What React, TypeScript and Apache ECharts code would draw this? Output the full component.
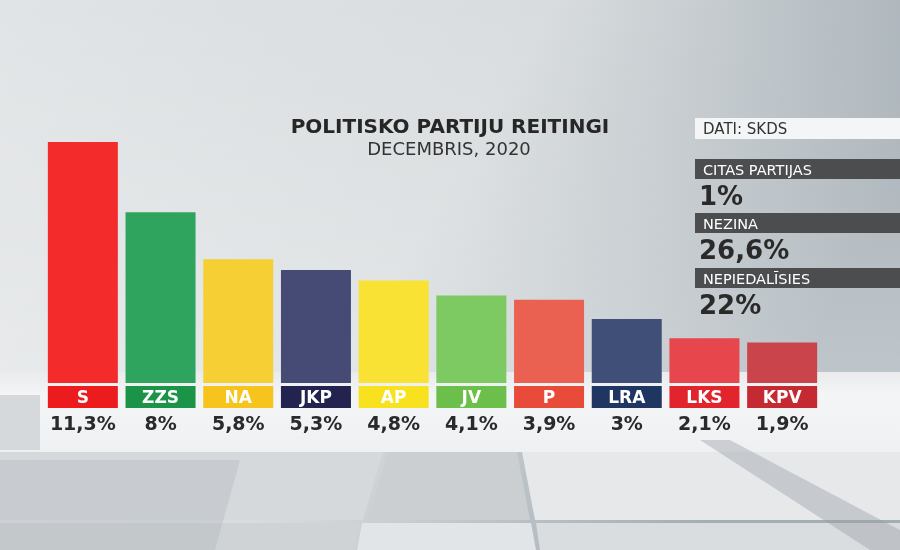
import React, { useEffect, useRef } from "react";
import * as echarts from "echarts";

const parties = ["S", "ZZS", "NA", "JKP", "AP", "JV", "P", "LRA", "LKS", "KPV"];
const values = [11.3, 8, 5.8, 5.3, 4.8, 4.1, 3.9, 3, 2.1, 1.9];
const otherLabels = ["CITAS PARTIJAS", "NEZINA", "NEPIEDALĪSIES"];
const otherValues = [1, 26.6, 22];
const title = "POLITISKO PARTIJU REITINGI";
const subtitle = "DECEMBRIS, 2020";
const source = "DATI: SKDS";

const barColors = ["#F42B2B", "#2EA45F", "#F6CF35", "#454B74", "#F9E234", "#7DC962", "#EA6152", "#3F4F77", "#E6464C", "#C9454B"];
const tagColors = ["#EC1B1E", "#1C9448", "#F7C31D", "#22234F", "#F8E11F", "#6CBF4B", "#E84B39", "#1F3562", "#E2252D", "#C52A33"];

const WIDE = "'DejaVu Sans', 'Open Sans', sans-serif";
const fmt = (v: number) => String(v).replace(".", ",") + "%";

export default function App() {
  const ref = useRef<HTMLDivElement>(null);
  useEffect(() => {
    if (!ref.current) return;
    const chart = echarts.init(ref.current, null, { renderer: "svg" });
    const rich: any = {
      v: { fontFamily: WIDE, fontSize: 19, fontWeight: "bold", color: "#2a2a2a", lineHeight: 29, align: "center" },
    };
    parties.forEach((_, i) => {
      rich["b" + i] = {
        fontFamily: WIDE, fontSize: 17, fontWeight: "bold", color: "#ffffff",
        backgroundColor: tagColors[i], width: 70, height: 22, lineHeight: 22, align: "center",
      };
    });

    const panel: any[] = [
      { type: "rect", shape: { x: 695, y: 118, width: 205, height: 21 }, style: { fill: "#f4f5f6" } },
      { type: "text", x: 703, y: 128.5, style: { text: source, font: `400 15px ${WIDE}`, fill: "#333", verticalAlign: "middle" } },
    ];
    const tops = [159, 213, 268];
    otherLabels.forEach((lab, i) => {
      panel.push({ type: "rect", shape: { x: 695, y: tops[i], width: 205, height: 20 }, style: { fill: "#4c4d4f" } });
      panel.push({ type: "text", x: 703, y: tops[i] + 10.5, style: { text: lab, font: `400 14.5px ${WIDE}`, fill: "#fff", verticalAlign: "middle" } });
      panel.push({ type: "text", x: 699, y: tops[i] + 37, style: { text: fmt(otherValues[i]), font: `bold 26px ${WIDE}`, fill: "#2a2a2a", verticalAlign: "middle" } });
    });

    const bg: any[] = [
      { type: "rect", z: -10, shape: { x: 0, y: 0, width: 900, height: 550 },
        style: { fill: new echarts.graphic.LinearGradient(0, 0, 1, 0.35, [
          { offset: 0, color: "#e1e4e6" }, { offset: 0.55, color: "#d8dcde" }, { offset: 1, color: "#a3adb4" }]) } },
      { type: "rect", z: -10, shape: { x: 0, y: 0, width: 900, height: 372 },
        style: { fill: new echarts.graphic.LinearGradient(0, 0, 0, 1, [
          { offset: 0, color: "rgba(255,255,255,0)" }, { offset: 1, color: "rgba(255,255,255,0.3)" }]) } },
      { type: "rect", z: -9, shape: { x: 0, y: 372, width: 900, height: 80 },
        style: { fill: new echarts.graphic.LinearGradient(0, 0, 0, 1, [
          { offset: 0, color: "#e9ebec" }, { offset: 0.3, color: "#f4f5f6" }, { offset: 1, color: "#eef0f1" }]) } },
      { type: "rect", z: -8, shape: { x: 0, y: 395, width: 40, height: 55 }, style: { fill: "#d6d9db" } },
      { type: "polygon", z: -8, shape: { points: [[0, 452], [383, 452], [363, 520], [0, 520]] }, style: { fill: "#d6d9db" } },
      { type: "polygon", z: -8, shape: { points: [[388, 452], [517, 452], [530, 520], [368, 520]] }, style: { fill: "#cbcfd2" } },
      { type: "polygon", z: -8, shape: { points: [[522, 452], [900, 452], [900, 520], [535, 520]] }, style: { fill: "#e6e8ea" } },
      { type: "polygon", z: -8, shape: { points: [[0, 523], [360, 523], [355, 550], [0, 550]] }, style: { fill: "#cfd3d5" } },
      { type: "polygon", z: -8, shape: { points: [[362, 523], [531, 523], [536, 550], [357, 550]] }, style: { fill: "#e2e5e7" } },
      { type: "polygon", z: -8, shape: { points: [[536, 523], [900, 523], [900, 550], [540, 550]] }, style: { fill: "#dadddf" } },
      { type: "polygon", z: -7, shape: { points: [[700, 440], [730, 440], [900, 530], [900, 550], [870, 550]] }, style: { fill: "rgba(150,158,164,0.4)" } },
      { type: "polygon", z: -7, shape: { points: [[0, 460], [240, 460], [215, 550], [0, 550]] }, style: { fill: "rgba(170,176,181,0.3)" } },
    ];

    chart.setOption({
      animation: false,
      grid: { left: 44, right: 79, top: 127, bottom: 167 },
      graphic: [
        ...bg,
        { type: "text", x: 450, y: 126, style: { text: title, font: `bold 20px ${WIDE}`, fill: "#262626", align: "center", verticalAlign: "middle" } },
        { type: "text", x: 449, y: 148, style: { text: subtitle, font: `400 18px ${WIDE}`, fill: "#333", align: "center", verticalAlign: "middle" } },
        ...panel,
      ],
      xAxis: {
        type: "category",
        data: parties,
        axisLine: { show: false },
        axisTick: { show: false },
        axisLabel: {
          interval: 0,
          margin: 3,
          formatter: (value: string, index: number) => `{b${index}|${value}}\n{v|${fmt(values[index])}}`,
          rich,
        },
      },
      yAxis: { type: "value", min: 0, max: 12, show: false, splitLine: { show: false } },
      series: [
        {
          type: "bar",
          barWidth: 70,
          data: values.map((v, i) => ({ value: v, itemStyle: { color: barColors[i] } })),
        },
      ],
    });
    return () => chart.dispose();
  }, []);
  return <div ref={ref} style={{ position: "fixed", left: 0, top: 0, width: 900, height: 550 }} />;
}
